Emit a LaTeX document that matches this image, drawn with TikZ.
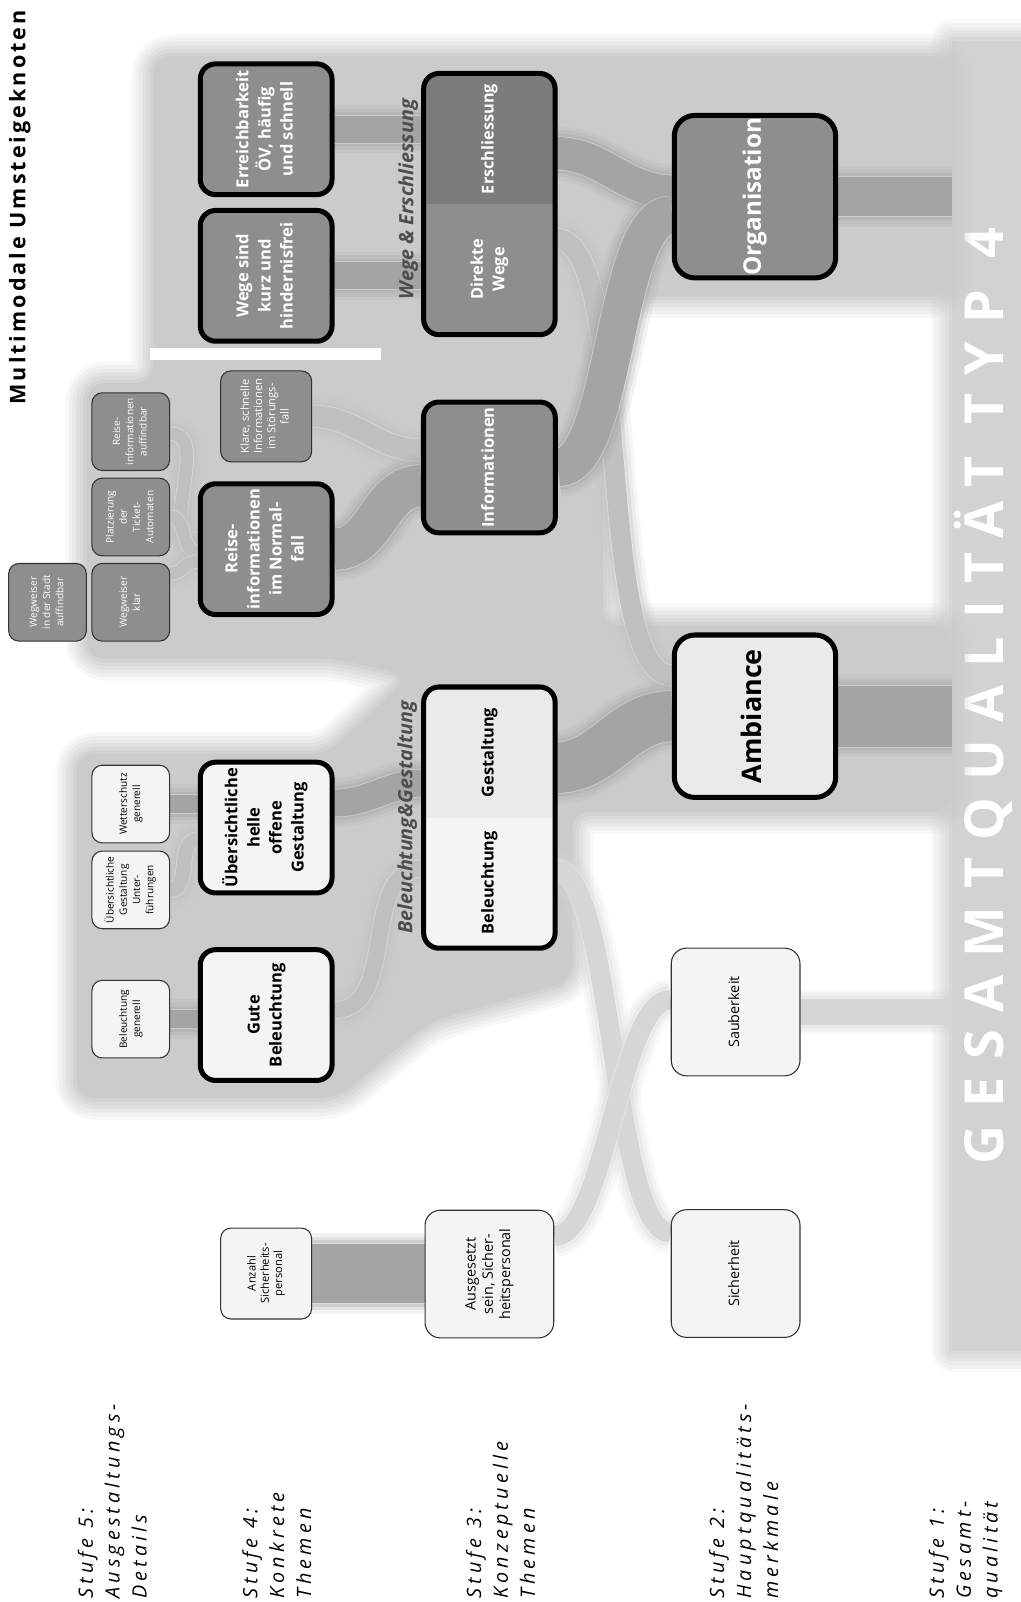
\documentclass[tikz,border=0pt]{standalone}
\usepackage{fontspec}
\usepackage{graphicx}
\setmainfont{Open Sans}
\newfontfamily\titlefont[LetterSpace=14]{Open Sans}
\newfontfamily\stufefont[LetterSpace=21]{Open Sans}
\newfontfamily\typfont[LetterSpace=33]{Open Sans}
\usetikzlibrary{calc,fit}
\definecolor{bggray}{HTML}{CBCBCB}
\definecolor{bargray}{HTML}{D2D2D2}
\definecolor{boxdark}{HTML}{8E8E8E}
\definecolor{boxdarker}{HTML}{7C7C7C}
\definecolor{boxlight}{HTML}{F4F4F4}
\definecolor{boxmid}{HTML}{EAEAEA}
\definecolor{flowdark}{HTML}{A4A4A4}
\definecolor{flowpale}{HTML}{C0C0C0}
\definecolor{flowlight}{HTML}{D6D6D6}
\definecolor{labelgray}{HTML}{4D4D4D}
\newcommand\rot[1]{\rotatebox{90}{\begin{tabular}{@{}c@{}}#1\end{tabular}}}
\newcommand\rotl[1]{\rotatebox{90}{\begin{tabular}{@{}l@{}}#1\end{tabular}}}
\pgfdeclarelayer{areas}
\pgfdeclarelayer{flows}
\pgfsetlayers{areas,flows,main}

\begin{document}
\begin{tikzpicture}[x=0.02cm, y=-0.02cm,
  softarea/.style={fill=#1,
    preaction={draw=#1, line width=24pt, opacity=.14, line join=round},
    preaction={draw=#1, line width=20pt, opacity=.17, line join=round},
    preaction={draw=#1, line width=16pt, opacity=.2, line join=round},
    preaction={draw=#1, line width=12pt, opacity=.25, line join=round},
    preaction={draw=#1, line width=8pt, opacity=.33, line join=round},
    preaction={draw=#1, line width=4pt, opacity=.5, line join=round}},
  flow/.style 2 args={draw=#2, line width=#1, line cap=butt,
    preaction={draw=#2, line width=#1+12pt, opacity=.14},
    preaction={draw=#2, line width=#1+8pt, opacity=.2},
    preaction={draw=#2, line width=#1+4pt, opacity=.33},
    preaction={draw=white, line width=#1+1pt, opacity=.3}},
  detail/.style={draw=black!80, line width=0.6pt, rounded corners=0.2cm,
    minimum width=1.52cm, minimum height=1.52cm, inner sep=0pt,
    font=\fontsize{5.6}{7.4}\selectfont},
  thema/.style={draw=black, line width=2.8pt, rounded corners=0.3cm,
    minimum width=2.58cm, minimum height=2.56cm, inner sep=0pt,
    font=\fontsize{9.2}{12.3}\selectfont\bfseries},
  konzept/.style={inner sep=0pt, minimum width=2.56cm, minimum height=2.55cm,
    font=\fontsize{9.1}{12}\selectfont\bfseries},
  haupt/.style={draw=black, line width=2.8pt, rounded corners=0.4cm,
    minimum width=3.16cm, minimum height=3.18cm, inner sep=0pt},
  einfach/.style={draw=black!80, line width=0.6pt, rounded corners=0.3cm,
    fill=boxlight, minimum width=2.52cm, minimum height=2.5cm, inner sep=0pt,
    font=\fontsize{8}{9.6}\selectfont},
  stufe/.style={anchor=south west, inner sep=0pt,
    font=\stufefont\itshape\fontsize{11}{15}\selectfont}]
  \useasboundingbox (0,0) rectangle (999,1568);

  % grey areas and the Gesamtqualitaet bar
  \begin{pgfonlayer}{areas}
    \node[softarea=bargray, minimum width=1.34cm, minimum height=25.64cm, inner sep=0pt,
      text=white, font=\typfont\bfseries\fontsize{30}{30}\selectfont]
      (gesamt) at (965.5,681) {\rot{GESAMTQUALITÄT TYP 4}};
    \path[softarea=bggray, rounded corners=10pt]
      (150,55) -- (930,55) -- (930,290) -- (590,290) -- (590,612) -- (930,612)
      -- (930,795) -- (560,795) -- (560,960) -- (420,1000) -- (330,1075)
      -- (75,1075) -- (75,738) -- (320,738) -- (400,662) -- (330,645)
      -- (85,645) -- (85,375) -- (150,375) -- cycle;
    \fill[white] (147,341) rectangle (373,352);
  \end{pgfonlayer}

  % title and stage labels
  \node[inner sep=0pt, font=\titlefont\bfseries\fontsize{12}{14}\selectfont]
    (titel) at (20,203) {\rot{Multimodale Umsteigeknoten}};
  \node[stufe] (stufe5) at (72,1565) {\rotl{Stufe 5:\\Ausgestaltungs-\\Details}};
  \node[stufe] (stufe4) at (233,1565) {\rotl{Stufe 4:\\Konkrete\\Themen}};
  \node[stufe] (stufe3) at (452,1565) {\rotl{Stufe 3:\\Konzeptuelle\\Themen}};
  \node[stufe] (stufe2) at (690,1565) {\rotl{Stufe 2:\\Hauptqualitäts-\\merkmale}};
  \node[stufe] (stufe1) at (905,1565) {\rotl{Stufe 1:\\Gesamt-\\qualität}};

  % stage 5: details
  \node[detail, fill=boxdark, text=white] (wegstadt) at (46.5,589.5) {\rot{Wegweiser\\in der Stadt\\auffindbar}};
  \node[detail, fill=boxdark, text=white] (wegklar) at (128,589.5) {\rot{Wegweiser\\klar}};
  \node[detail, fill=boxdark, text=white] (platz) at (128,506) {\rot{Platzierung\\der\\Ticket-\\Automaten}};
  \node[detail, fill=boxdark, text=white] (reiseauf) at (128,422.5) {\rot{Reise-\\informationen\\auffindbar}};
  \node[detail, fill=boxlight] (wetter) at (128,787) {\rot{Wetterschutz\\generell}};
  \node[detail, fill=boxlight] (unterf) at (128,871) {\rot{Übersichtliche\\Gestaltung\\Unter-\\führungen}};
  \node[detail, fill=boxlight] (beleugen) at (128,997.5) {\rot{Beleuchtung\\generell}};
  \node[detail, fill=boxdark, text=white, minimum width=1.78cm, minimum height=1.78cm,
    font=\fontsize{6.2}{7.4}\selectfont]
    (klare) at (260.5,407.5) {\rot{Klare, schnelle\\Informationen\\im Störungs-\\fall}};
  \node[detail, fill=boxlight, minimum width=1.78cm, minimum height=1.78cm,
    font=\fontsize{6.2}{7.4}\selectfont]
    (anzahl) at (260.5,1246.5) {\rot{Anzahl\\Sicherheits-\\personal}};

  % stage 4: concrete themes
  \node[thema, fill=boxdark, text=white] (erreich) at (260.5,126.5) {\rot{Erreichbarkeit\\ÖV, häufig\\und schnell}};
  \node[thema, fill=boxdark, text=white] (wegekurz) at (260.5,270) {\rot{Wege sind\\kurz und\\hindernisfrei}};
  \node[thema, fill=boxdark, text=white] (reisenorm) at (260.5,537.5) {\rot{Reise-\\informationen\\im Normal-\\fall}};
  \node[thema, fill=boxlight] (uebersicht) at (260.5,810) {\rot{Übersichtliche\\helle\\offene\\Gestaltung}};
  \node[thema, fill=boxlight] (gutebel) at (260.5,993.5) {\rot{Gute\\Beleuchtung}};

  % stage 3: conceptual themes
  \begin{scope}
    \clip[rounded corners=0.3cm] (415,72) rectangle (543,327);
    \node[konzept, fill=boxdarker, text=white] (erschl) at (479,136) {\rot{Erschliessung}};
    \node[konzept, fill=boxdark, text=white] (direkt) at (479,263.5) {\rot{Direkte\\Wege}};
  \end{scope}
  \node[fit=(erschl)(direkt), inner sep=0pt, draw, line width=2.8pt, rounded corners=0.3cm] (wegebox) {};
  \node[thema, fill=boxdark, text=white] (infos) at (479,457.5) {\rot{Informationen}};
  \begin{scope}
    \clip[rounded corners=0.3cm] (415,673) rectangle (543,928);
    \node[konzept, fill=boxmid] (gestalt) at (479,736.5) {\rot{Gestaltung}};
    \node[konzept, fill=boxlight] (beleucht) at (479,864) {\rot{Beleuchtung}};
  \end{scope}
  \node[fit=(gestalt)(beleucht), inner sep=0pt, draw, line width=2.8pt, rounded corners=0.3cm] (belgestbox) {};
  \node[einfach] (ausges) at (479,1247) {\rot{Ausgesetzt\\sein, Sicher-\\heitspersonal}};
  \node[inner sep=0pt, text=labelgray, font=\bfseries\itshape\fontsize{11}{13}\selectfont]
    (wegelabel) at (400,195) {\rot{Wege \& Erschliessung}};
  \node[inner sep=0pt, text=labelgray, font=\bfseries\itshape\fontsize{11}{13}\selectfont]
    (belgestlabel) at (399,800) {\rot{Beleuchtung\&Gestaltung}};

  % stage 2: main quality features
  \node[haupt, fill=boxdark, text=white, font=\bfseries\fontsize{13.5}{16}\selectfont]
    (org) at (739,192.5) {\rot{Organisation}};
  \node[haupt, fill=boxmid, font=\bfseries\fontsize{15}{18}\selectfont]
    (amb) at (739,701) {\rot{Ambiance}};
  \node[einfach] (sauber) at (720,990.5) {\rot{Sauberkeit}};
  \node[einfach] (sicher) at (720,1246.5) {\rot{Sicherheit}};

  % flows between the stages
  \begin{pgfonlayer}{flows}
    \draw[flow={7pt}{flowpale}] ($(reiseauf.east)+(0,2)$) to[out=0,in=180] ($(reisenorm.west)+(0,-10)$);
    \draw[flow={7pt}{flowpale}] (platz.east) to[out=0,in=180] ($(reisenorm.west)+(0,3)$);
    \draw[flow={7pt}{flowpale}] ($(wegklar.east)+(0,-28)$) to[out=0,in=180] ($(reisenorm.west)+(0,12)$);
    \draw[flow={10pt}{flowdark}] (wetter.east) -- (wetter.east -| uebersicht.west);
    \draw[flow={8pt}{flowpale}] (unterf.east) to[out=0,in=180] ($(uebersicht.west)+(0,12)$);
    \draw[flow={10pt}{flowdark}] (beleugen.east) -- (beleugen.east -| gutebel.west);
    \draw[flow={33pt}{flowdark}] (anzahl.east) -- (anzahl.east -| ausges.west);

    \draw[flow={15pt}{flowdark}] (erreich.east) -- (erreich.east -| wegebox.west);
    \draw[flow={15pt}{flowdark}] (wegekurz.east) -- (wegekurz.east -| wegebox.west);
    \draw[flow={12pt}{flowpale}] (klare.east) to[out=0,in=180] ($(infos.west)+(0,-17)$);
    \draw[flow={23pt}{flowdark}] (reisenorm.east) to[out=0,in=180] ($(infos.west)+(0,18)$);
    \draw[flow={15pt}{flowdark}] ($(uebersicht.east)+(0,-24)$) to[out=0,in=180] ($(gestalt.west)+(0,30)$);
    \draw[flow={9pt}{flowpale}] ($(gutebel.east)+(0,-5)$) to[out=0,in=180] ($(beleucht.west)+(0,-14)$);

    \draw[flow={18pt}{flowdark}] ($(erschl.east)+(0,14)$) to[out=0,in=180] ($(org.west)+(0,-5)$);
    \draw[flow={11pt}{flowpale}] ($(direkt.east)+(0,-30)$) to[out=0,in=180,looseness=.45] ($(amb.west)+(0,-40)$);
    \draw[flow={21pt}{flowdark}] (infos.east) to[out=0,in=180,looseness=.55] ($(org.west)+(0,18)$);
    \draw[flow={28pt}{flowdark}] ($(gestalt.east)+(0,15)$) to[out=0,in=180] (amb.west);
    \draw[flow={11pt}{flowlight}] ($(beleucht.east)+(0,-13)$) to[out=0,in=180,looseness=.4] ($(sicher.west)+(0,-40)$);
    \draw[flow={11pt}{flowlight}] ($(ausges.east)+(0,-37)$) to[out=0,in=180,looseness=.5] ($(sauber.west)+(0,-12)$);
    \draw[flow={20pt}{flowdark!85!white}] ($(ausges.east)+(0,5)$) -- ($(ausges.east)+(0,5)$ -| sicher.west);

    \draw[flow={22pt}{flowdark}] (org.east) -- (org.east -| gesamt.west);
    \draw[flow={34pt}{flowdark}] (amb.east) -- (amb.east -| gesamt.west);
    \draw[flow={14pt}{flowlight}] (sauber.east) -- (sauber.east -| gesamt.west);
  \end{pgfonlayer}
\end{tikzpicture}
\end{document}
